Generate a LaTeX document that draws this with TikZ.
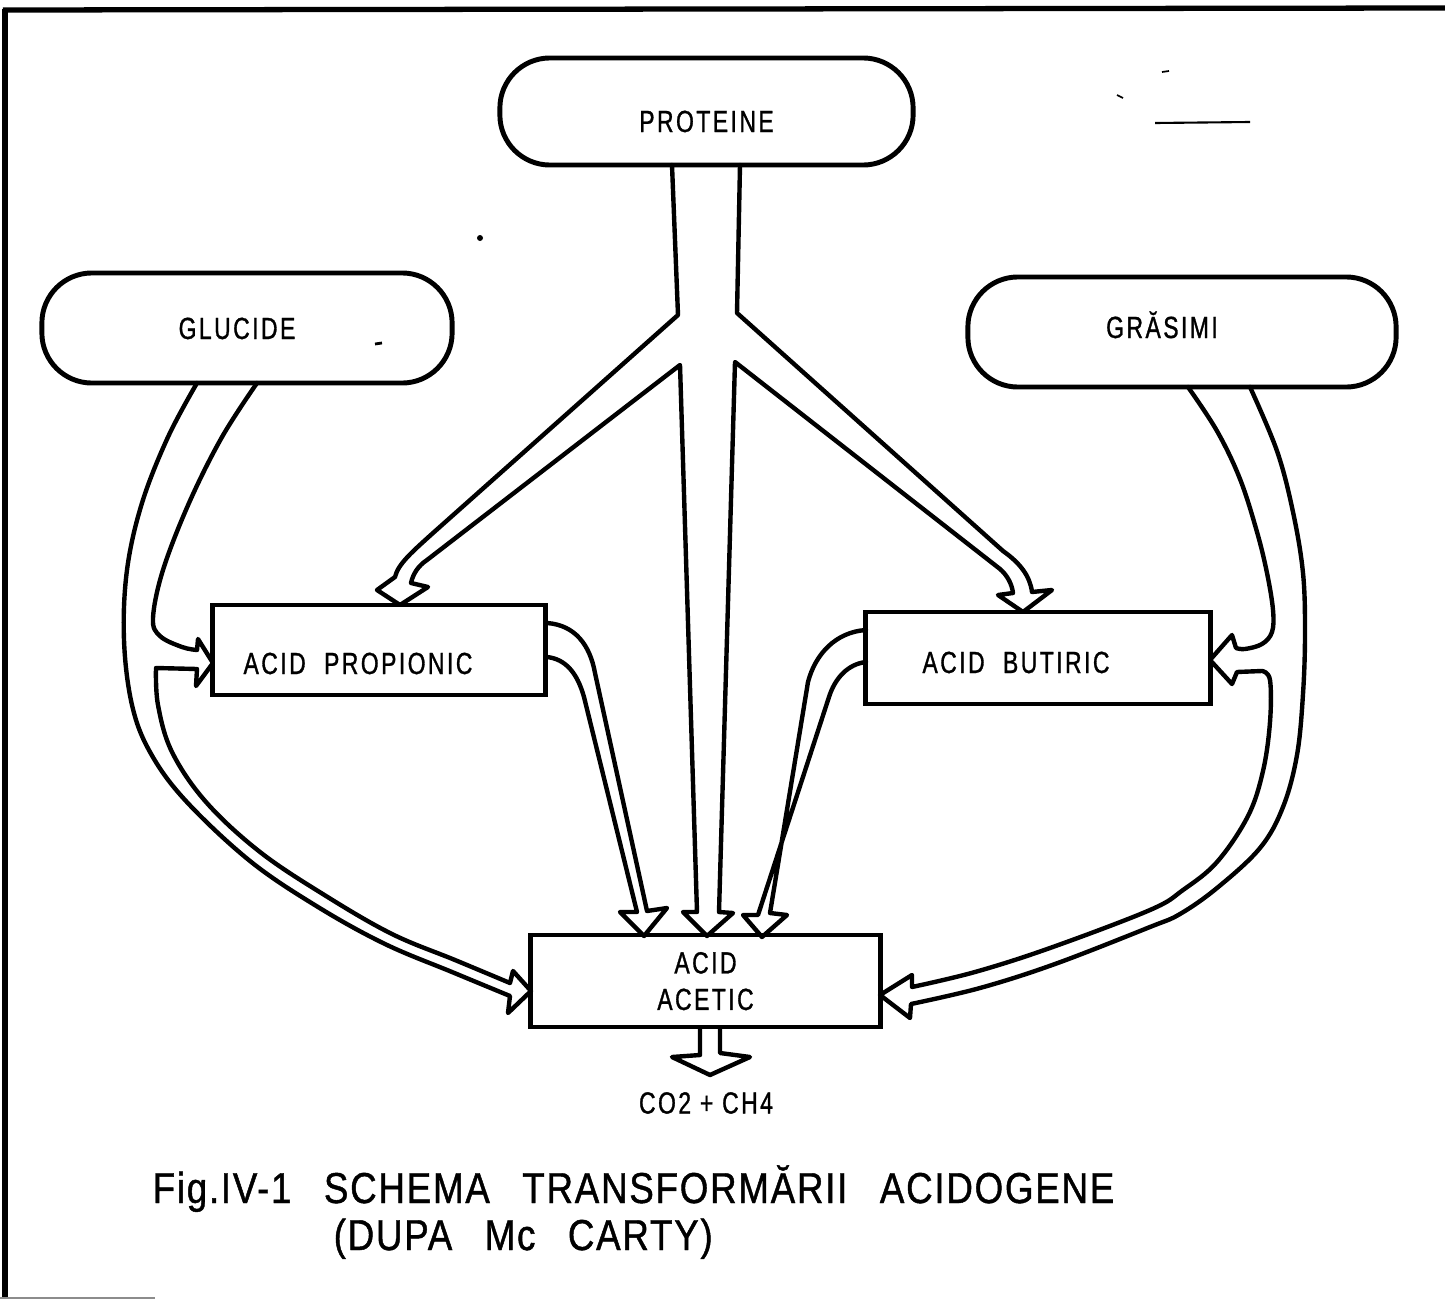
\documentclass[tikz,border=0pt]{standalone}
\usepackage{fontspec}
\setmainfont{Liberation Sans}[FakeStretch=0.75,LetterSpace=8,FakeBold=1]
\newfontfamily\capfamily{Liberation Sans}[FakeStretch=0.85,LetterSpace=4,FakeBold=1]
\newcommand{\lblfont}{\fontsize{8.7}{10.4}\selectfont}
\newcommand{\capfont}{\capfamily\fontsize{12.3}{14.8}\selectfont}
\begin{document}
\begin{tikzpicture}[x=0.01cm,y=-0.01cm,
  every node/.style={font=\lblfont},
  pill/.style={draw,line width=1.4pt,rounded corners=0.5cm,inner sep=0pt,text depth=0pt},
  abox/.style={draw,line width=1.4pt,inner sep=0pt,text depth=0pt},
  band/.style={line width=1.25pt,line join=round,line cap=round},
  captxt/.style={anchor=base west,inner sep=0pt,font=\capfont},
  frame/.style={line width=1.5pt}]
\fill[white] (0,0) rectangle (1445,1306);
\useasboundingbox (0,0) rectangle (1445,1306);
% frame
\draw[frame] (3,10) -- (1445,8);
\draw[frame] (5,9) -- (5,1298);
\draw[line width=0.6pt,black!45] (0,1298) -- (155,1298);
% stray marks
\fill (480,238) circle (3);
\draw[line width=0.6pt] (1155,123) -- (1250,122);
\draw[line width=0.5pt] (1162,72) -- (1169,71);
\draw[line width=0.5pt] (1117,95) -- (1123,98);
\draw[line width=0.8pt] (375,344) -- (382,343);
% boxes
\node[pill,minimum width=4.13cm,minimum height=1.07cm,text height=0.41cm] (prot) at (706.5,111.5) {PROTEINE};
\node[pill,minimum width=4.10cm,minimum height=1.10cm,text height=0.22cm] (glu) at (247,328) {\hspace*{-0.2cm}GLUCIDE};
\node[pill,minimum width=4.28cm,minimum height=1.10cm,text height=0.22cm,text depth=0.1cm] (gras) at (1182,332) {\hspace*{-0.4cm}GRĂSIMI};
\node[abox,minimum width=3.32cm,minimum height=0.90cm,text height=0.48cm] (prop) at (379,650) {\hspace*{-0.42cm}ACID\hspace{0.6em}PROPIONIC};
\node[abox,minimum width=3.44cm,minimum height=0.92cm,text height=0.30cm] (but) at (1038,658) {\hspace*{-0.44cm}ACID\hspace{0.6em}BUTIRIC};
\node[abox,minimum width=3.49cm,minimum height=0.92cm,align=center] (acet) at (705.5,981) {ACID\\ACETIC};
\node (gas) at (706,1103) {CO2 + CH4};
% hollow arrows: proteine
\draw[band] (672,165) -- (678,315) -- (433,533) .. controls (412,552) and (398,564) .. (395,577)
  -- (377,590) -- (400,605) -- (428,587) -- (411,583) .. controls (413,574) and (418,566) .. (427,560)
  -- (680,365) -- (697,912) -- (683,912) -- (707,936) -- (733,913) -- (719,912)
  -- (735,362) -- (1000,569) .. controls (1007,575) and (1012,584) .. (1013,593)
  -- (998,595) -- (1023,612) -- (1052,590) -- (1032,592) .. controls (1030,576) and (1020,563) .. (1003,551)
  -- (737,313) -- (740,165);
% glucide
\draw[band] plot[smooth,tension=0.6] coordinates {(257,383) (222,437) (189,503) (163,570) (153,618) (160,636) (182,647) (197,650)}
  -- (198,639) -- (213,663) -- (196,686) -- (197,669)
  -- plot[smooth,tension=0.6] coordinates {(156,668) (158,705) (172,752) (206,802) (260,852) (326,896) (392,934) (455,960) (510,983)}
  -- (513,971) -- (531,991) -- (508,1013)
  -- plot[smooth,tension=0.6] coordinates {(510,996) (452,972) (385,944) (318,907) (250,861) (185,800) (150,752) (132,705) (124,640) (127,570) (142,503) (168,437) (197,383)};
% grasimi
\draw[band] plot[smooth,tension=0.6] coordinates {(1188,387) (1217,431) (1240,479) (1257,532) (1267,573) (1273,610) (1272,632) (1262,644) (1245,649) (1236,648)}
  -- (1232,635) -- (1210,660) -- (1232,684) -- (1237,672)
  -- plot[smooth,tension=0.6] coordinates {(1262,671) (1270,680) (1270,722) (1263,771) (1248,816) (1217,862) (1183,890) (1150,910) (1050,948) (975,972) (912,987)}
  -- (912,975) -- (880,995) -- (910,1018)
  -- plot[smooth,tension=0.6] coordinates {(911,1004) (980,988) (1055,964) (1150,927) (1180,914) (1217,888) (1260,848) (1283,807) (1297,755) (1303,694) (1305,633) (1303,573) (1293,512) (1277,451) (1250,387)};
% propionic -> acetic
\draw[band] (547,623) .. controls (575,625) and (590,645) .. (595,673) -- (647,911) -- (667,908)
  -- (644,936) -- (620,912) -- (637,912) -- (584,697) .. controls (577,672) and (565,659) .. (547,657);
% butiric -> acetic
\draw[band] (866,630) .. controls (835,632) and (815,655) .. (808,682) -- (770,913) -- (787,915)
  -- (762,937) -- (743,915) -- (758,915) -- (829,697) .. controls (835,678) and (848,664) .. (866,662);
% acetic -> gas
\draw[band] (700,1028) -- (700,1055) -- (672,1057) -- (710,1075) -- (750,1057) -- (720,1053) -- (720,1029);
% caption
\node[captxt] (cap1) at (152,1203) {Fig.IV-1\hspace{0.75em}SCHEMA\hspace{0.75em}TRANSFORMĂRII\hspace{0.75em}ACIDOGENE};
\node[captxt] (cap2) at (333,1250) {(DUPA\hspace{0.75em}Mc\hspace{0.75em}CARTY)};
\end{tikzpicture}
\end{document}
